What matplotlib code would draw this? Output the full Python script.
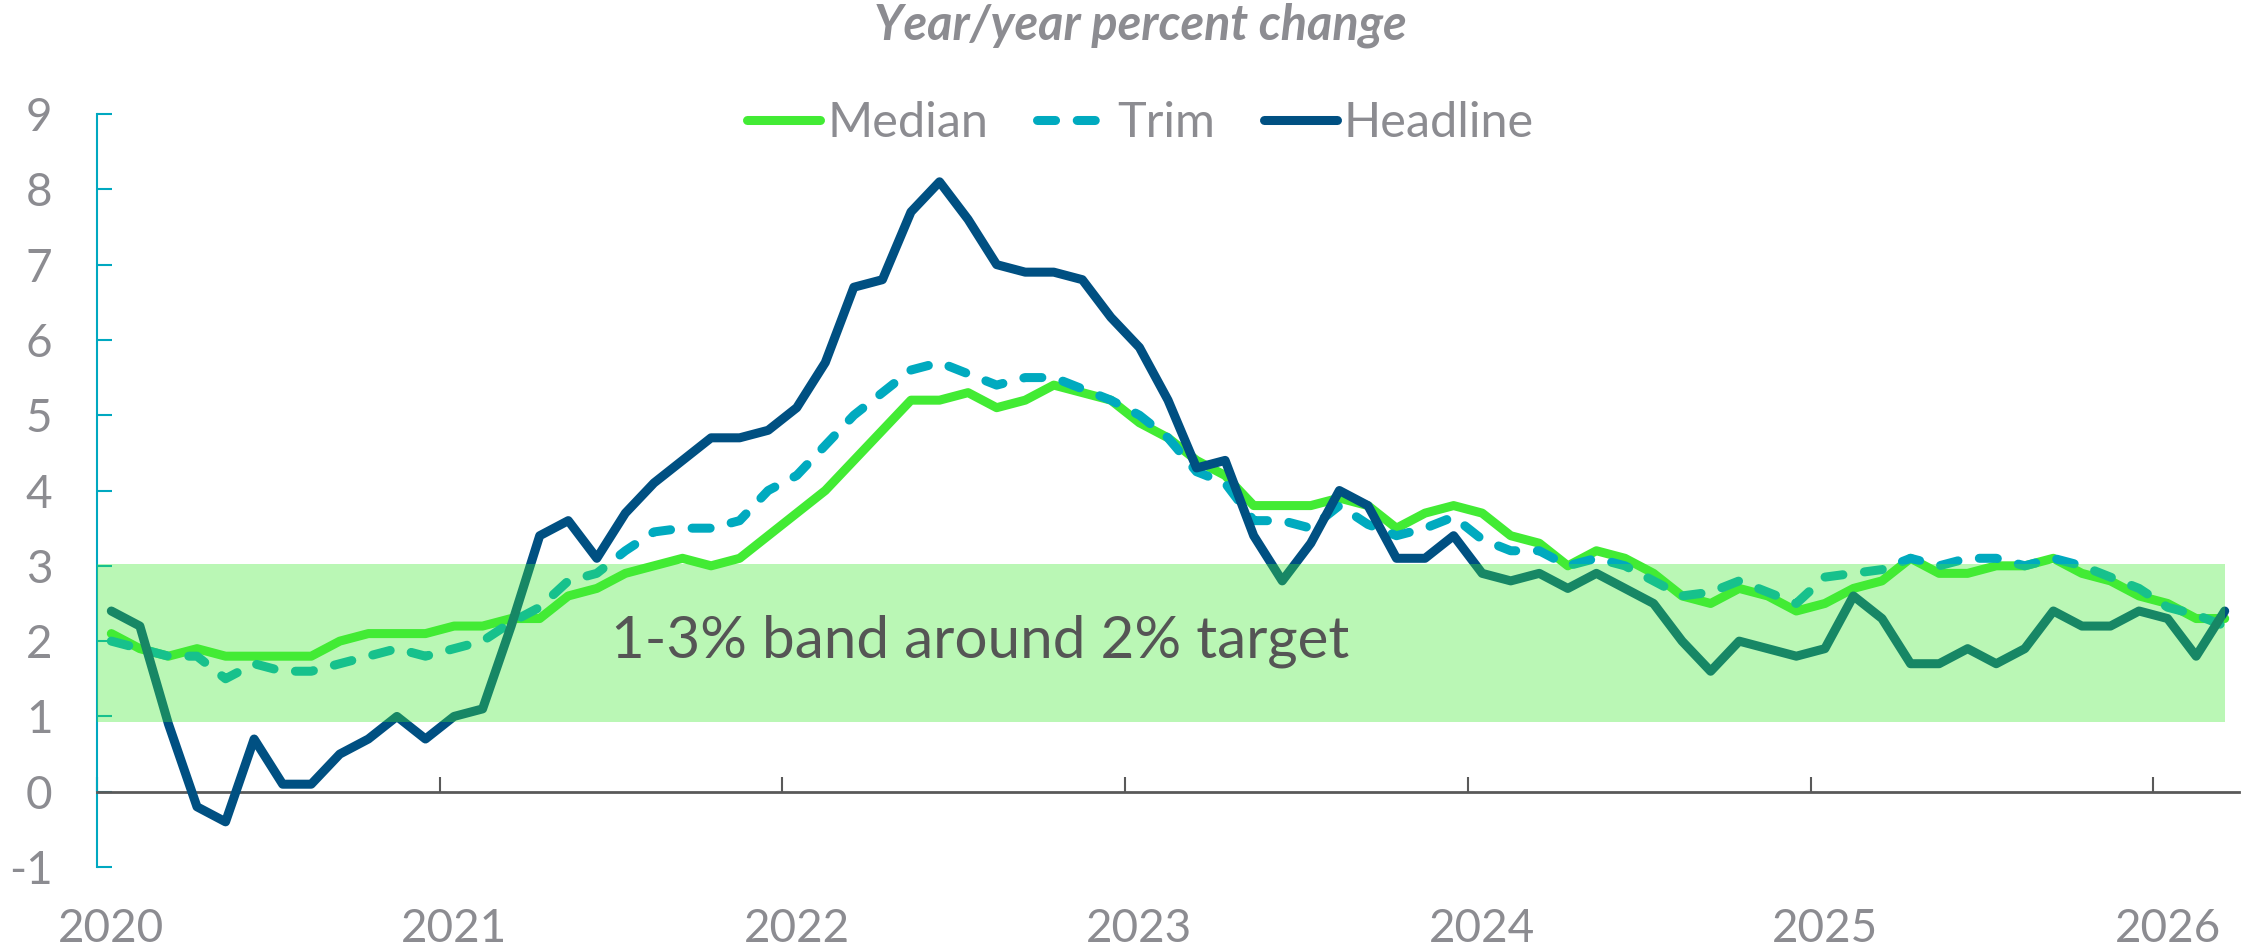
import numpy as np
import matplotlib
matplotlib.use("Agg")
import matplotlib.pyplot as plt
from matplotlib.lines import Line2D

plt.rcParams['font.family'] = ['Lato', 'DejaVu Sans']
plt.rcParams['axes.unicode_minus'] = False

# monthly, Jan 2020 .. Mar 2026
headline = [2.4, 2.2, 0.9, -0.2, -0.4, 0.7, 0.1, 0.1, 0.5, 0.7, 1.0, 0.7,
            1.0, 1.1, 2.2, 3.4, 3.6, 3.1, 3.7, 4.1, 4.4, 4.7, 4.7, 4.8,
            5.1, 5.7, 6.7, 6.8, 7.7, 8.1, 7.6, 7.0, 6.9, 6.9, 6.8, 6.3,
            5.9, 5.2, 4.3, 4.4, 3.4, 2.8, 3.3, 4.0, 3.8, 3.1, 3.1, 3.4,
            2.9, 2.8, 2.9, 2.7, 2.9, 2.7, 2.5, 2.0, 1.6, 2.0, 1.9, 1.8,
            1.9, 2.6, 2.3, 1.7, 1.7, 1.9, 1.7, 1.9, 2.4, 2.2, 2.2, 2.4,
            2.3, 1.8, 2.4]
median = [2.1, 1.9, 1.8, 1.9, 1.8, 1.8, 1.8, 1.8, 2.0, 2.1, 2.1, 2.1,
          2.2, 2.2, 2.3, 2.3, 2.6, 2.7, 2.9, 3.0, 3.1, 3.0, 3.1, 3.4,
          3.7, 4.0, 4.4, 4.8, 5.2, 5.2, 5.3, 5.1, 5.2, 5.4, 5.3, 5.2,
          4.9, 4.7, 4.4, 4.2, 3.8, 3.8, 3.8, 3.9, 3.8, 3.5, 3.7, 3.8,
          3.7, 3.4, 3.3, 3.0, 3.2, 3.1, 2.9, 2.6, 2.5, 2.7, 2.6, 2.4,
          2.5, 2.7, 2.8, 3.1, 2.9, 2.9, 3.0, 3.0, 3.1, 2.9, 2.8, 2.6,
          2.5, 2.3, 2.3]
trim = [2.0, 1.9, 1.8, 1.8, 1.5, 1.7, 1.6, 1.6, 1.7, 1.8, 1.9, 1.8,
        1.9, 2.0, 2.25, 2.45, 2.8, 2.9, 3.2, 3.45, 3.5, 3.5, 3.6, 4.0,
        4.2, 4.6, 5.0, 5.3, 5.6, 5.7, 5.55, 5.4, 5.5, 5.5, 5.35, 5.2,
        5.0, 4.7, 4.25, 4.1, 3.6, 3.6, 3.5, 3.8, 3.55, 3.4, 3.5, 3.65,
        3.35, 3.2, 3.2, 3.0, 3.1, 3.0, 2.8, 2.6, 2.65, 2.8, 2.65, 2.5,
        2.85, 2.9, 2.95, 3.1, 3.0, 3.1, 3.1, 3.0, 3.1, 3.0, 2.85, 2.7,
        2.45, 2.35, 2.2]
years = ['2020', '2021', '2022', '2023', '2024', '2025', '2026']
band_lo, band_hi = 0.93, 3.02

c_med = '#42eb34'
c_trim = '#00aabf'
c_head = '#005082'
c_gray = '#8c8c91'
trim_dash = (2.0, 2.4)

x = np.arange(len(headline))

fig = plt.figure(figsize=(22.41, 9.51), dpi=100)
ax = fig.add_axes([0.0433, 0.0883, 0.9558, 0.7918])

ax.plot(x, median, color=c_med, lw=6.5, solid_capstyle='round', solid_joinstyle='round', zorder=2)
ax.plot(x, trim, color=c_trim, lw=6.5, dashes=trim_dash, dash_capstyle='round', zorder=3)
ax.plot(x, headline, color=c_head, lw=6.5, solid_capstyle='round', solid_joinstyle='round', zorder=4)

# target band sits on top of the lines
ax.fill_between([-0.5, x[-1]], band_lo, band_hi, color=c_med, alpha=0.36, lw=0, zorder=5)
ax.text(17.5, 1.78, '1-3% band around 2% target', fontsize=42, color='#555555',
        va='baseline', ha='left', zorder=6)

ax.set_xlim(-0.5, len(x) - 0.5)
ax.set_ylim(-1, 9)

for s in ['top', 'right']:
    ax.spines[s].set_visible(False)
ax.spines['left'].set_color('#00a8c0')
ax.spines['left'].set_linewidth(1.5)
ax.spines['bottom'].set_position(('data', 0))
ax.spines['bottom'].set_color('#595959')
ax.spines['bottom'].set_linewidth(2)

ax.set_yticks(range(-1, 10))
ax.tick_params(axis='y', direction='in', length=11, width=1.5, color='#00a8c0',
               labelsize=33, labelcolor=c_gray, pad=32)

ax.set_xticks(np.arange(-0.5, len(x), 12))
ax.set_xticklabels([])
ax.set_xticks(np.arange(0, len(x), 12), minor=True)
ax.set_xticklabels(years, minor=True)
ax.tick_params(axis='x', which='major', direction='in', length=11, width=1.5, color='#595959')
ax.tick_params(axis='x', which='minor', length=0, labelsize=33, labelcolor=c_gray, pad=84)

fig.text(0.509, 0.973, 'Year/year percent change', fontsize=35, fontweight='bold',
         fontstyle='italic', color=c_gray, ha='center', va='center')

handles = [Line2D([], [], color=c_med, lw=6.5, solid_capstyle='round'),
           Line2D([], [], color=c_trim, lw=6.5, dashes=trim_dash, dash_capstyle='round'),
           Line2D([], [], color=c_head, lw=6.5, solid_capstyle='round')]
fig.legend(handles, ['Median', 'Trim', 'Headline'], loc='center', bbox_to_anchor=(0.509, 0.871),
           ncol=3, frameon=False, fontsize=35, labelcolor=c_gray, handlelength=1.5,
           handletextpad=0.15, columnspacing=1.0)

fig.savefig('out.png', dpi=100)
